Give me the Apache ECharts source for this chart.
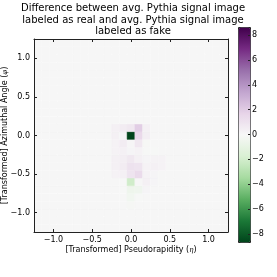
<!DOCTYPE html>
<html><head><meta charset="utf-8">
<script src="https://cdn.jsdelivr.net/npm/echarts@6/dist/echarts.min.js"></script>
<style>html,body{margin:0;padding:0;background:#fff}#c{width:277px;height:277px}</style>
</head><body><div id="c"></div>
<script>
// Bin centres (eta along x, phi along y)
var etaBins = [-1.2,-1.1,-1.0,-0.9,-0.8,-0.7,-0.6,-0.5,-0.4,-0.3,-0.2,-0.1,0.0,0.1,0.2,0.3,0.4,0.5,0.6,0.7,0.8,0.9,1.0,1.1,1.2];
var phiBins = [-1.2,-1.1,-1.0,-0.9,-0.8,-0.7,-0.6,-0.5,-0.4,-0.3,-0.2,-0.1,0.0,0.1,0.2,0.3,0.4,0.5,0.6,0.7,0.8,0.9,1.0,1.1,1.2];
// Non-zero cells: eta, phi, difference value
var cellEta = [-0.2,-0.1,0.0,0.1,0.2,
               -0.2,-0.1,0.0,0.1,0.2,
               -0.2,-0.1,0.0,0.1,0.2,
               -0.2,-0.1,0.0,0.1,0.2,0.3,
               -0.2,-0.1,0.0,0.1,0.2,0.3,0.4,
               -0.2,-0.1,0.0,0.1,0.2,0.3,0.4,
               -0.2,-0.1,0.0,0.1,0.2,0.3,
               -0.1,0.0,0.1,0.2,0.3,
               -0.1,0.0,0.1,0.2,
               0.0,0.1,
               0.0];
var cellPhi = [0.1,0.1,0.1,0.1,0.1,
               0.0,0.0,0.0,0.0,0.0,
               -0.1,-0.1,-0.1,-0.1,-0.1,
               -0.2,-0.2,-0.2,-0.2,-0.2,-0.2,
               -0.3,-0.3,-0.3,-0.3,-0.3,-0.3,-0.3,
               -0.4,-0.4,-0.4,-0.4,-0.4,-0.4,-0.4,
               -0.5,-0.5,-0.5,-0.5,-0.5,-0.5,
               -0.6,-0.6,-0.6,-0.6,-0.6,
               -0.7,-0.7,-0.7,-0.7,
               -0.8,-0.8,
               -0.9];
var cellVal = [0.3,0.5,0.7,1.9,0.3,
               0.3,0.1,-8.75,1.4,0.4,
               0.2,0.5,0.05,0.7,-0.15,
               0.2,0.3,0.1,0.2,-0.1,-0.1,
               0.3,0.4,0.7,0.3,0.1,0.2,0.2,
               0.3,0.5,1.0,0.9,0.2,0.3,0.2,
               0.2,0.3,0.9,1.3,0.2,0.1,
               -0.1,-2.1,0.0,0.3,0.1,
               -0.1,-0.6,-0.5,0.1,
               -0.4,-0.1,
               -0.2];
var cbTicks = [-8,-6,-4,-2,0,2,4,6,8];
var axisTicks = [-1.0,-0.5,0.0,0.5,1.0];
var vMin = -8.75, vMax = 8.62;

var lookup = {};
for (var i = 0; i < cellVal.length; i++) lookup[cellEta[i].toFixed(1) + '|' + cellPhi[i].toFixed(1)] = cellVal[i];
var data = [];
etaBins.forEach(function (e) {
  phiBins.forEach(function (p) {
    var k = e.toFixed(1) + '|' + p.toFixed(1);
    data.push([e, p, lookup[k] !== undefined ? lookup[k] : 0]);
  });
});

function fmt(v) { return (v < 0 ? '\u2212' : '') + Math.abs(v).toFixed(1); }
function fmtInt(v) { return (v < 0 ? '\u2212' : '') + Math.abs(v); }
var FONT = 'DejaVu Sans';
var tickStyle = { show: true, inside: true, length: 3, lineStyle: { color: '#222', width: 1 }, customValues: axisTicks };
var lineStyle = { show: true, onZero: false, lineStyle: { color: '#222', width: 1 } };
var nameRich = { i: { fontStyle: 'italic', fontSize: 7, fontFamily: 'DejaVu Serif', color: '#000' } };

var chart = echarts.init(document.getElementById('c'));
chart.setOption({
  animation: false,
  textStyle: { fontFamily: FONT },
  title: {
    text: 'Difference between avg. Pythia signal image\nlabeled as real and avg. Pythia signal image\nlabeled as fake',
    left: 128, top: -2, textAlign: 'center',
    textStyle: { fontFamily: FONT, fontSize: 10, fontWeight: 'normal', color: '#000', lineHeight: 11.4 }
  },
  grid: [
    { left: 34, top: 39, width: 194, height: 193, outerBoundsMode: 'none', containLabel: false },
    { left: 238, top: 35, width: 12, height: 199, outerBoundsMode: 'none', containLabel: false }
  ],
  xAxis: [
    { type: 'value', gridIndex: 0, min: -1.25, max: 1.25, position: 'bottom', z: 5,
      axisLine: lineStyle, axisTick: tickStyle, splitLine: { show: false },
      axisLabel: { customValues: axisTicks, formatter: fmt, fontSize: 8, color: '#000', margin: 4, fontFamily: FONT },
      name: '[Transformed] Pseudorapidity ({i|η})', nameLocation: 'middle', nameGap: 14, nameMoveOverlap: false,
      nameTextStyle: { fontSize: 8, color: '#000', fontFamily: FONT, rich: nameRich } },
    { type: 'value', gridIndex: 0, min: -1.25, max: 1.25, position: 'top', z: 5,
      axisLine: lineStyle, axisTick: tickStyle, splitLine: { show: false }, axisLabel: { show: false } },
    { type: 'value', gridIndex: 1, min: 0, max: 1, show: false }
  ],
  yAxis: [
    { type: 'value', gridIndex: 0, min: -1.25, max: 1.25, position: 'left', z: 5,
      axisLine: lineStyle, axisTick: tickStyle, splitLine: { show: false },
      axisLabel: { customValues: axisTicks, formatter: fmt, fontSize: 8, color: '#000', margin: 4, fontFamily: FONT },
      name: '[Transformed] Azimuthal Angle ({i|φ})', nameLocation: 'middle', nameGap: 25, nameRotate: 90, nameMoveOverlap: false,
      nameTextStyle: { fontSize: 8, color: '#000', fontFamily: FONT, rich: nameRich } },
    { type: 'value', gridIndex: 0, min: -1.25, max: 1.25, position: 'right', z: 5,
      axisLine: lineStyle, axisTick: tickStyle, splitLine: { show: false }, axisLabel: { show: false } },
    { type: 'value', gridIndex: 1, min: -8, max: 8, interval: 2, position: 'right', z: 5,
      axisLine: { show: false, onZero: false }, splitLine: { show: false },
      axisTick: { show: true, inside: true, length: 2, lineStyle: { color: '#222' } },
      axisLabel: { formatter: fmtInt, fontSize: 8, color: '#000', margin: 2, fontFamily: FONT } }
  ],
  visualMap: {
    type: 'continuous', min: vMin, max: vMax, dimension: 2, seriesIndex: 0,
    left: 238, top: 27, itemWidth: 12, itemHeight: 215, padding: 0,
    calculable: false, showLabel: false, text: ['', ''],
    borderColor: '#222', borderWidth: 1,
    inRange: { color: ['#00441b','#1b7837','#5aae61','#a6dba0','#d9f0d3','#f7f7f7','#e7d4e8','#c2a5cf','#9970ab','#762a83','#40004b'] }
  },
  series: [{
    type: 'custom', xAxisIndex: 0, yAxisIndex: 0, data: data, clip: true,
    renderItem: function (params, api) {
      var x = api.value(0), y = api.value(1);
      var p1 = api.coord([x - 0.05, y + 0.05]);
      var p2 = api.coord([x + 0.05, y - 0.05]);
      return { type: 'rect',
        shape: { x: p1[0], y: p1[1], width: p2[0] - p1[0], height: p2[1] - p1[1] },
        style: { fill: api.visual('color'), stroke: api.visual('color'), lineWidth: 0.5 } };
    },
    encode: { x: 0, y: 1 }
  }]
});
</script></body></html>
